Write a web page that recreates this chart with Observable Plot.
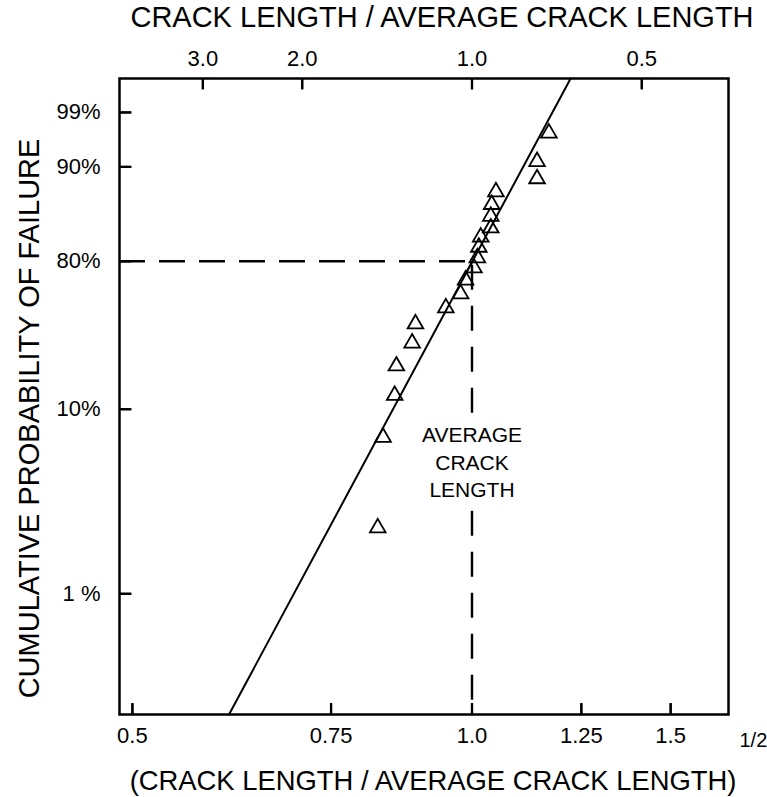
<!DOCTYPE html>
<html>
<head>
<meta charset="utf-8">
<script src="https://cdn.jsdelivr.net/npm/d3@7"></script>
<script src="https://cdn.jsdelivr.net/npm/@observablehq/plot@0.6"></script>
<style>
  body { margin: 0; background: #fff; }
  #chart svg { font-family: "Liberation Sans", Arial, sans-serif; }
</style>
</head>
<body>
<div id="chart"></div>
<script>
// Specimen results: normalized crack-size variable and cumulative failure probability
const strengthRatio = [0.825, 0.834, 0.854, 0.857, 0.885, 0.891, 0.948, 0.977, 0.987, 1.004,
                       1.011, 1.014, 1.018, 1.039, 1.039, 1.041, 1.050, 1.142, 1.142, 1.170];
const failureProb   = [0.023, 0.071, 0.118, 0.167, 0.217, 0.268, 0.318, 0.367, 0.420, 0.471,
                       0.515, 0.563, 0.610, 0.653, 0.707, 0.760, 0.813, 0.862, 0.915, 0.971];

// Fitted straight line (two end points, on probability paper)
const fitRatio = [0.609, 1.223];
const fitProb  = [0.00216, 0.99917];

// Average crack length reference
const avgRatio = 1.0;
const avgProb  = 0.5;

// Axis extents
const xDomain = [0.487, 1.688];
const probDomain = [0.00216, 0.99917];

// Bottom axis ticks
const bottomTicks  = [0.5, 0.75, 1.0, 1.25, 1.5];
const bottomLabels = ["0.5", "0.75", "1.0", "1.25", "1.5"];
// Top axis ticks: crack length / average crack length
const topTicks  = [3.0, 2.0, 1.0, 0.5];
const topLabels = ["3.0", "2.0", "1.0", "0.5"];
// Left axis ticks
const probTicks  = [0.99, 0.90, 0.50, 0.10, 0.01];
const probLabels = ["99%", "90%", "80%", "10%", "1 %"];

// Weibull probability paper: ln(-ln(1 - P))
const weib = p => Math.log(-Math.log(1 - p));
// Crack-length ratio expressed on the bottom (inverse square root) scale
const fromCrack = c => 1 / Math.sqrt(c);

const points = strengthRatio.map((x, i) => ({x, y: weib(failureProb[i])}));
const fit = fitRatio.map((x, i) => ({x, y: weib(fitProb[i])}));

const bottomMap = new Map(bottomTicks.map((t, i) => [t, bottomLabels[i]]));
const topVals = topTicks.map(fromCrack);
const topMap = new Map(topVals.map((t, i) => [t, topLabels[i]]));
const probVals = probTicks.map(weib);
const probMap = new Map(probVals.map((t, i) => [t, probLabels[i]]));

const plotWidth = 767, plotHeight = 797;
const mTop = 78, mRight = 39, mBottom = 83, mLeft = 119;
const frameW = plotWidth - mLeft - mRight;
const frameH = plotHeight - mTop - mBottom;
const tickLen = 11;

// tick lengths expressed in scale units
const yLo = weib(probDomain[0]), yHi = weib(probDomain[1]);
const yPerPx = (yHi - yLo) / frameH;
const xTickEnd = xDomain[0] * Math.exp(12 * Math.log(xDomain[1] / xDomain[0]) / frameW);

const tickStyle = {stroke: "#000", strokeWidth: 2.2};

const chart = Plot.plot({
  width: plotWidth,
  height: plotHeight,
  marginLeft: mLeft,
  marginRight: mRight,
  marginTop: mTop,
  marginBottom: mBottom,
  style: {background: "#fff", color: "#000", fontSize: "22px"},
  x: {type: "log", domain: xDomain},
  y: {type: "linear", domain: [yLo, yHi]},
  marks: [
    // dashed guides to the average crack length
    Plot.ruleY([weib(avgProb)], {x1: xDomain[0], x2: avgRatio, stroke: "#000", strokeWidth: 2.4, strokeDasharray: "26,14"}),
    Plot.ruleX([avgRatio], {y1: weib(avgProb), y2: yLo, stroke: "#000", strokeWidth: 2.4, strokeDasharray: "25,16", strokeDashoffset: -4}),
    Plot.text(["AVERAGE\nCRACK\nLENGTH"], {
      x: avgRatio, y: weib(0.053), text: d => d, fontSize: 21, lineHeight: 1.3,
      fill: "#000", stroke: "#fff", strokeWidth: 16, textAnchor: "middle", lineAnchor: "middle"
    }),
    // fitted line
    Plot.line(fit, {x: "x", y: "y", stroke: "#000", strokeWidth: 2}),
    // data points
    Plot.dot(points, {x: "x", y: "y", symbol: "triangle", r: 5.8, stroke: "#000", strokeWidth: 1.8, fill: "none"}),
    Plot.frame({stroke: "#000", strokeWidth: 2.5}),
    // tick labels
    Plot.axisX({anchor: "bottom", ticks: bottomTicks, tickFormat: d => bottomMap.get(d),
      tickSize: 0, tickPadding: 13, fontSize: 22, label: null}),
    Plot.axisX({anchor: "top", ticks: topVals, tickFormat: d => topMap.get(d),
      tickSize: 0, tickPadding: 13, fontSize: 22, label: null}),
    Plot.axisY({anchor: "left", ticks: probVals, tickFormat: d => probMap.get(d),
      tickSize: 0, tickPadding: 19, fontSize: 22, label: null}),
    // axis titles
    Plot.text(["CRACK LENGTH / AVERAGE CRACK LENGTH"], {
      frameAnchor: "top", text: d => d, dx: 18, dy: -61, fontSize: 29, lineAnchor: "middle", fill: "#000"
    }),
    Plot.text(["(CRACK LENGTH / AVERAGE CRACK LENGTH)"], {
      frameAnchor: "bottom", text: d => d, dx: 9, dy: 67, fontSize: 27.4, lineAnchor: "middle", fill: "#000"
    }),
    Plot.text(["1/2"], {
      frameAnchor: "bottom-right", text: d => d, dx: 11, dy: 26, fontSize: 20, textAnchor: "start", lineAnchor: "middle", fill: "#000"
    }),
    Plot.text(["CUMULATIVE PROBABILITY OF FAILURE"], {
      frameAnchor: "left", text: d => d, dx: -90, dy: 22, rotate: -90, fontSize: 29,
      textAnchor: "middle", lineAnchor: "middle", fill: "#000"
    }),
    // inward tick marks along the frame edges
    Plot.link(bottomTicks, {x1: d => d, x2: d => d, y1: yLo, y2: yLo + tickLen * yPerPx, ...tickStyle}),
    Plot.link(topVals, {x1: d => d, x2: d => d, y1: yHi, y2: yHi - tickLen * yPerPx, ...tickStyle}),
    Plot.link(probVals, {x1: xDomain[0], x2: xTickEnd, y1: d => d, y2: d => d, ...tickStyle}),
    Plot.ruleX(bottomTicks.slice(), {x: d => d, insetTop: frameH - tickLen, ...tickStyle}),
    Plot.ruleX(topVals.slice(), {x: d => d, insetBottom: frameH - tickLen, ...tickStyle}),
    Plot.ruleY(probVals.slice(), {y: d => d, insetRight: frameW - 12, ...tickStyle})
  ]
});

document.getElementById("chart").appendChild(chart);
</script>
</body>
</html>
